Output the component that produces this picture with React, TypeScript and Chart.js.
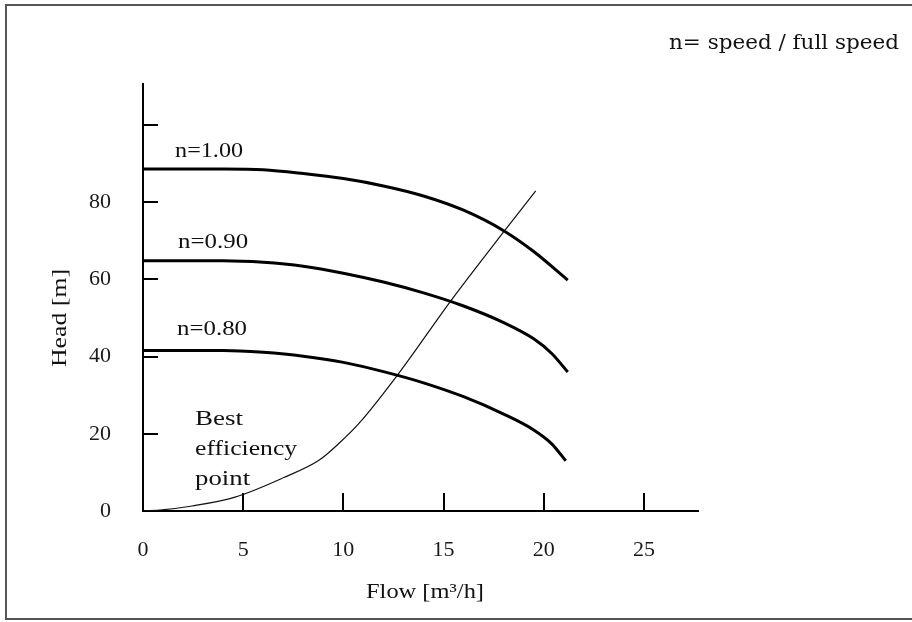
import React, { useEffect, useRef } from 'react';
import { Chart, registerables } from 'chart.js';

Chart.register(...registerables);

// ---- data ----
const flowN100 = [0, 4, 6, 8, 10, 12, 14, 16, 18, 19.5, 21.2];
const headN100 = [88.6, 88.6, 88.4, 87.4, 86.1, 84.2, 81.6, 77.9, 72.6, 67.2, 59.8];

const flowN090 = [0, 4, 6, 8, 10, 12, 14, 16, 18, 19.5, 20.4, 21.2];
const headN090 = [64.8, 64.8, 64.4, 63.4, 61.6, 59.3, 56.5, 53.1, 48.8, 44.6, 40.8, 36.0];

const flowN080 = [0, 4, 6, 8, 10, 12, 14, 16, 18, 19.5, 20.4, 21.1];
const headN080 = [41.6, 41.6, 41.1, 40.1, 38.5, 36.1, 33.2, 29.6, 25.1, 21.0, 17.4, 13.0];

const flowBep = [0, 0.95, 2.45, 4.6, 7.0, 8.8, 9.8, 10.8, 12.7, 15.4, 18.0, 19.6];
const headBep = [0, 0.3, 1.3, 3.6, 8.6, 13.2, 17.6, 22.8, 35.2, 54.7, 72.3, 82.9];

const xTickLabels = [0, 5, 10, 15, 20, 25];
const yTickLabels = [0, 20, 40, 60, 80];
const xTickMarks = [5, 10, 15, 20, 25];
const yTickMarks = [20, 40, 60, 80, 100];

const curveLabels = ['n=1.00', 'n=0.90', 'n=0.80'];
const bepLabel = ['Best', 'efficiency', 'point'];
const noteText = 'n= speed / full speed';
const xTitle = 'Flow [m\u00b3/h]';
const yTitle = 'Head [m]';

// ---- layout / style (not data) ----
const X_MAX = 27.7;
const Y_MAX = 110.6;
const SERIF = '"Liberation Serif", "Times New Roman", serif';

// anchor (data coords: left x, baseline y) and target width in px
const curveLabelPos = [
  { x: 1.6, y: 91.7, w: 68 },
  { x: 1.75, y: 68.1, w: 70 },
  { x: 1.7, y: 45.6, w: 70 },
];
const bepLabelPos = [
  { x: 2.6, y: 22.3, w: 48 },
  { x: 2.6, y: 14.5, w: 102 },
  { x: 2.6, y: 6.7, w: 55 },
];
const yLabelShift: Record<number, number> = { 0: -8, 20: 4, 40: 8, 60: 14, 80: 13 };
const xLabelShift: Record<number, number> = { 5: -8, 20: -4 };

function fitText(ctx: CanvasRenderingContext2D, text: string, x: number, y: number, width: number, font: string, rotate = false) {
  ctx.save();
  ctx.font = font;
  const natural = ctx.measureText(text).width;
  const sx = width / natural;
  ctx.translate(x, y);
  if (rotate) ctx.rotate(-Math.PI / 2);
  ctx.scale(sx, 1);
  ctx.fillText(text, 0, 0);
  ctx.restore();
}

const decorPlugin = {
  id: 'decor',
  afterDraw(chart: any) {
    const { ctx, chartArea } = chart;
    const xs = chart.scales.x;
    const ys = chart.scales.y;
    ctx.save();
    ctx.strokeStyle = '#000';
    ctx.lineWidth = 2;
    xTickMarks.forEach((v) => {
      const px = Math.round(xs.getPixelForValue(v));
      ctx.beginPath();
      ctx.moveTo(px, chartArea.bottom);
      ctx.lineTo(px, chartArea.bottom - 18);
      ctx.stroke();
    });
    yTickMarks.forEach((v) => {
      const py = Math.round(ys.getPixelForValue(v));
      ctx.beginPath();
      ctx.moveTo(chartArea.left, py);
      ctx.lineTo(chartArea.left + 15, py);
      ctx.stroke();
    });

    ctx.fillStyle = '#111';
    ctx.textBaseline = 'alphabetic';
    ctx.textAlign = 'left';
    const f22 = `22px ${SERIF}`;
    curveLabels.forEach((t, i) => {
      const p = curveLabelPos[i];
      fitText(ctx, t, xs.getPixelForValue(p.x), ys.getPixelForValue(p.y), p.w, f22);
    });
    bepLabel.forEach((t, i) => {
      const p = bepLabelPos[i];
      fitText(ctx, t, xs.getPixelForValue(p.x), ys.getPixelForValue(p.y), p.w, f22);
    });

    fitText(ctx, xTitle, chartArea.left + 223, chartArea.bottom + 87, 118, `21px ${SERIF}`);
    fitText(ctx, yTitle, chartArea.left - 77, chartArea.top + 283, 98, `21px ${SERIF}`, true);

    fitText(ctx, noteText, 669, 49, 230, '21px "DejaVu Serif", serif');
    ctx.restore();
  },
};

export default function App() {
  const canvasRef = useRef<HTMLCanvasElement | null>(null);

  useEffect(() => {
    let chart: Chart | null = null;
    let cancelled = false;
    const build = () => {
      if (cancelled || !canvasRef.current) return;
      const toPts = (xs: number[], ys: number[]) => xs.map((x, i) => ({ x, y: ys[i] }));
      const thick = { borderColor: '#000', borderWidth: 3, pointRadius: 0, cubicInterpolationMode: 'monotone' as const, fill: false };
      chart = new Chart(canvasRef.current, {
        type: 'line',
        data: {
          datasets: [
            { label: 'n=1.00', data: toPts(flowN100, headN100), ...thick },
            { label: 'n=0.90', data: toPts(flowN090, headN090), ...thick },
            { label: 'n=0.80', data: toPts(flowN080, headN080), ...thick },
            {
              label: 'Best efficiency point',
              data: toPts(flowBep, headBep),
              borderColor: '#111',
              borderWidth: 1.2,
              pointRadius: 0,
              cubicInterpolationMode: 'monotone',
              fill: false,
            },
          ],
        },
        options: {
          animation: false,
          responsive: true,
          maintainAspectRatio: false,
          layout: { padding: { left: 0, top: 84, right: 214, bottom: 0 } },
          plugins: { legend: { display: false }, tooltip: { enabled: false }, title: { display: false } },
          scales: {
            x: {
              type: 'linear',
              min: 0,
              max: X_MAX,
              afterFit: (s: any) => {
                s.height = 111;
              },
              grid: { display: false, drawTicks: false },
              border: { display: true, color: '#000', width: 2 },
              ticks: {
                stepSize: 5,
                includeBounds: false,
                autoSkip: false,
                maxRotation: 0,
                padding: 26,
                color: '#1a1a1a',
                font: { family: SERIF, size: 22 },
                labelOffset: (c: any) => (c.tick ? xLabelShift[c.tick.value] ?? 0 : 0),
                callback: (v: any) => (xTickLabels.includes(Number(v)) ? String(v) : ''),
              },
            },
            y: {
              type: 'linear',
              min: 0,
              max: Y_MAX,
              afterFit: (s: any) => {
                s.width = 143;
              },
              grid: { display: false, drawTicks: false },
              border: { display: true, color: '#000', width: 2 },
              ticks: {
                stepSize: 20,
                includeBounds: false,
                autoSkip: false,
                padding: 32,
                color: '#1a1a1a',
                font: { family: SERIF, size: 22 },
                labelOffset: (c: any) => (c.tick ? yLabelShift[c.tick.value] ?? 0 : 0),
                callback: (v: any) => (yTickLabels.includes(Number(v)) ? String(v) : ''),
              },
            },
          },
        },
        plugins: [decorPlugin],
      });
    };
    const fonts: any = (document as any).fonts;
    if (fonts && fonts.load) {
      Promise.all([
        fonts.load('22px "Liberation Serif"'),
        fonts.load('21px "DejaVu Serif"'),
      ])
        .catch(() => null)
        .then(build);
    } else {
      build();
    }
    return () => {
      cancelled = true;
      if (chart) chart.destroy();
    };
  }, []);

  return (
    <div style={{ position: 'fixed', left: 0, top: 0, width: 912, height: 622, background: '#fff', overflow: 'hidden' }}>
      <div
        style={{
          position: 'absolute',
          left: 5,
          top: 4,
          width: 940,
          height: 616,
          boxSizing: 'border-box',
          borderLeft: '2px solid #555',
          borderTop: '2px solid #555',
          borderBottom: '2px solid #555',
        }}
      />
      <div style={{ position: 'absolute', left: 0, top: 0, width: 912, height: 622 }}>
        <canvas ref={canvasRef} />
      </div>
    </div>
  );
}
